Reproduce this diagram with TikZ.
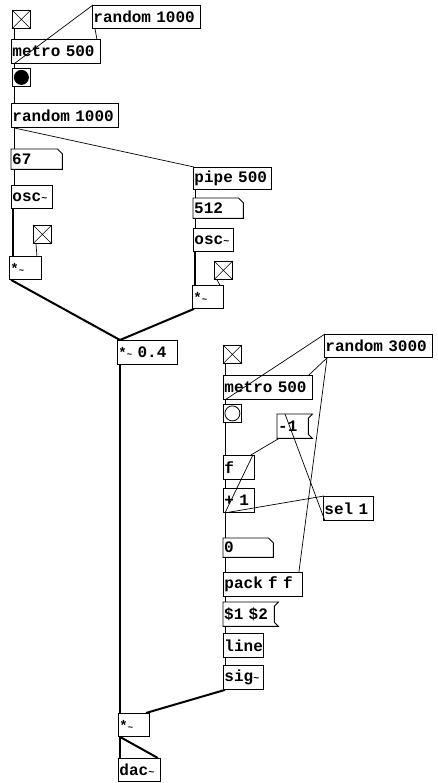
\documentclass[tikz,border=0pt]{standalone}
\usepackage{fontspec}
\newfontfamily\pdmono{Liberation Mono}[BoldFont={* Bold}]
\newcommand\pdfont{\pdmono\bfseries\fontsize{16}{16}\selectfont}
\newcommand\tld{{\fontsize{10}{10}\selectfont\textasciitilde}}
\newcommand\mulsym{{\fontsize{14}{14}\selectfont*}{\fontsize{9}{9}\selectfont\textasciitilde}}
\tikzset{
  pd/.style={anchor=north west, inner xsep=0pt, inner ysep=0pt, font=\pdfont, align=left},
  obj/.style={pd, draw, line width=0.9pt},
  boxline/.style={line width=0.9pt},
  ctl/.style={line width=0.7pt},
  sgl/.style={line width=2pt},
  tgl/.style={draw, line width=0.8pt, anchor=north west, minimum size=18pt, inner sep=0pt},
  cross/.style={line width=0.5pt}
}
\newcommand\pdbox[7][obj]{\node[#1, text width=#5pt, minimum height=#6pt] (#2) at (#3,#4) {\hspace{1pt}#7};}
\newcommand\numshape[1]{\draw[boxline] (#1.north west) -- ([xshift=-5pt]#1.north east) -- ([yshift=-5pt]#1.north east) -- (#1.south east) -- (#1.south west) -- cycle;}
\newcommand\msgshape[1]{\draw[boxline] (#1.north west) -- (#1.north east) -- ([shift={(-4pt,-4pt)}]#1.north east) -- ([shift={(-4pt,4pt)}]#1.south east) -- (#1.south east) -- (#1.south west) -- cycle;}
\newcommand\toggle[3]{\node[tgl] (#1) at (#2,#3) {}; \draw[cross] (#1.north west) -- (#1.south east) (#1.north east) -- (#1.south west);}
\begin{document}
\begin{tikzpicture}[x=1pt,y=-1pt]
\useasboundingbox[fill=white] (0,0) rectangle (438,783);

% ---------- left cluster ----------
\toggle{tglA}{12}{10}
\pdbox{rndA}{92}{5}{108}{23}{random 1000}
\pdbox{metA}{11}{39}{89}{24}{metro 500}
\node[tgl] (bngA) at (12,68) {};
\fill (bngA.center) circle (7.5pt);
\pdbox{rndB}{11}{103}{107}{24}{random 1000}
\pdbox[pd]{numA}{11}{149}{51}{20}{67}
\numshape{numA}
\pdbox{oscA}{11}{185}{41}{23}{osc\tld}
\toggle{tglB}{33}{225}
\pdbox{mulA}{9}{256}{32}{23}{\mulsym}

\pdbox{pipe}{193}{167}{78}{22}{pipe 500}
\pdbox[pd]{numB}{193}{198}{50}{20}{512}
\numshape{numB}
\pdbox{oscB}{193}{228}{40}{23}{osc\tld}
\toggle{tglC}{214}{261}
\pdbox{mulB}{192}{285}{31}{23}{\mulsym}

\pdbox{mulC}{117}{340}{60}{24}{\mulsym\ 0.4}
\pdbox{mulD}{118}{713}{31}{23}{\mulsym}
\pdbox{dac}{118}{758}{42}{23}{dac\tld}

% ---------- right cluster ----------
\toggle{tglD}{223}{345}
\pdbox{rndC}{324}{334}{108}{23}{random 3000}
\pdbox{metB}{223}{375}{89}{24}{metro 500}
\node[tgl] (bngB) at (223,404) {};
\draw[line width=0.8pt] (bngB.center) circle (7.5pt);
\pdbox[pd]{msgA}{277}{414}{35}{24}{-1}
\msgshape{msgA}
\pdbox{fbox}{223}{455}{31}{24}{f}
\pdbox{plus}{223}{488}{31}{24}{+ 1}
\pdbox{sel}{323}{496}{50}{24}{sel 1}
\pdbox[pd]{numC}{223}{538}{50}{19}{0}
\numshape{numC}
\pdbox{pack}{223}{572}{79}{24}{pack f f}
\pdbox[pd]{msgB}{223}{602}{55}{24}{\$1 \$2}
\msgshape{msgB}
\pdbox{lin}{223}{633}{40}{24}{line}
\pdbox{sig}{223}{665}{40}{24}{sig\tld}

% ---------- control connections ----------
\draw[ctl] ([xshift=2pt]tglA.south west) -- ([xshift=3pt]metA.north west);
\draw[ctl] ([xshift=3pt]metA.south west) -- ([xshift=1pt]rndA.north west);
\draw[ctl] ([xshift=3pt]rndA.south west) -- ([xshift=-4pt]metA.north east);
\draw[ctl] ([xshift=3pt]metA.south west) -- ([xshift=2pt]bngA.north west);
\draw[ctl] ([xshift=2pt]bngA.south west) -- ([xshift=3pt]rndB.north west);
\draw[ctl] ([xshift=3pt]rndB.south west) -- ([xshift=3pt]numA.north west);
\draw[ctl] ([xshift=3pt]rndB.south west) -- ([xshift=1pt]pipe.north west);
\draw[ctl] ([xshift=3pt]numA.south west) -- ([xshift=3pt]oscA.north west);
\draw[ctl] ([xshift=3pt]tglB.south west) -- ([xshift=-5pt]mulA.north east);
\draw[ctl] ([xshift=2pt]pipe.south west) -- ([xshift=2pt]numB.north west);
\draw[ctl] ([xshift=2pt]numB.south west) -- ([xshift=2pt]oscB.north west);
\draw[ctl] ([xshift=3pt]tglC.south west) -- ([xshift=-4pt]mulB.north east);

\draw[ctl] ([xshift=2pt]tglD.south west) -- ([xshift=2pt]metB.north west);
\draw[ctl] ([xshift=2pt]metB.south west) -- ([xshift=1pt]rndC.north west);
\draw[ctl] ([xshift=3pt]rndC.south west) -- ([xshift=-4pt]metB.north east);
\draw[ctl] ([xshift=3pt]rndC.south west) -- ([xshift=-4pt]pack.north east);
\draw[ctl] ([xshift=2pt]metB.south west) -- ([xshift=2pt]bngB.north west);
\draw[ctl] ([xshift=2pt]bngB.south west) -- ([xshift=2pt]fbox.north west);
\draw[ctl] ([xshift=2pt]fbox.south west) -- ([xshift=2pt]plus.north west);
\draw[ctl] ([xshift=2pt]plus.south west) -- ([xshift=-2pt]fbox.north east);
\draw[ctl] ([xshift=2pt]msgA.south west) -- ([xshift=-4pt]fbox.north east);
\draw[ctl] ([xshift=2pt]sel.south west) -- ([xshift=8pt]msgA.north west);
\draw[ctl] ([xshift=2pt]plus.south west) -- ([xshift=1pt]sel.north west);
\draw[ctl] ([xshift=2pt]plus.south west) -- ([xshift=2pt]numC.north west);
\draw[ctl] ([xshift=2pt]numC.south west) -- ([xshift=2pt]pack.north west);
\draw[ctl] ([xshift=2pt]pack.south west) -- ([xshift=2pt]msgB.north west);
\draw[ctl] ([xshift=2pt]msgB.south west) -- ([xshift=2pt]lin.north west);
\draw[ctl] ([xshift=2pt]lin.south west) -- ([xshift=2pt]sig.north west);

% ---------- signal connections ----------
\draw[sgl] ([xshift=2pt]oscA.south west) -- ([xshift=4pt]mulA.north west);
\draw[sgl] ([xshift=2pt]oscB.south west) -- ([xshift=3pt]mulB.north west);
\draw[sgl] ([xshift=2pt]mulA.south west) -- ([xshift=3pt]mulC.north west);
\draw[sgl] ([xshift=2pt]mulB.south west) -- ([xshift=3pt]mulC.north west);
\draw[sgl] ([xshift=3pt]mulC.south west) -- ([xshift=2pt]mulD.north west);
\draw[sgl] ([xshift=2pt]sig.south west) -- ([xshift=-4pt]mulD.north east);
\draw[sgl] ([xshift=2pt]mulD.south west) -- ([xshift=2pt]dac.north west);
\draw[sgl] ([xshift=2pt]mulD.south west) -- ([xshift=-3pt]dac.north east);
\end{tikzpicture}
\end{document}
